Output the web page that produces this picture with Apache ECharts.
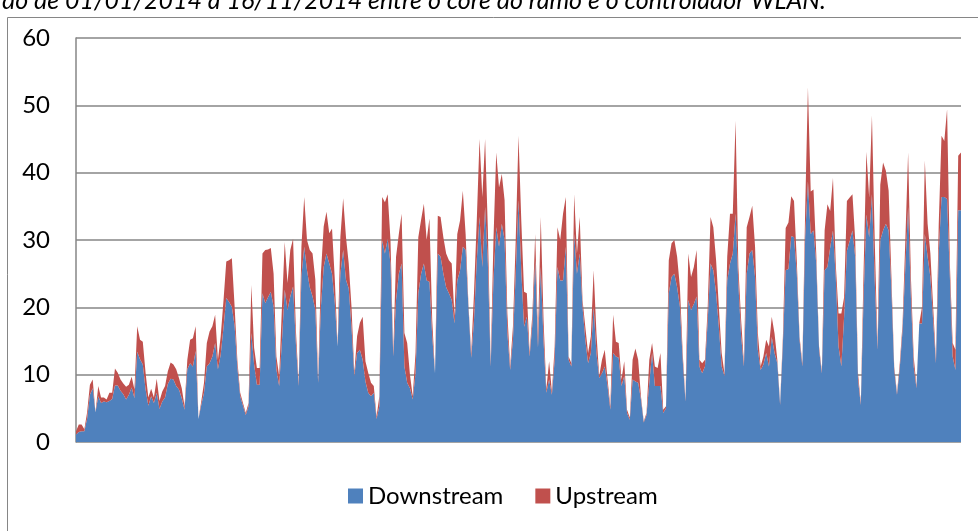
<!DOCTYPE html>
<html><head><meta charset="utf-8">
<script src="https://cdn.jsdelivr.net/npm/echarts@6/dist/echarts.min.js"></script>
<style>html,body{margin:0;padding:0;background:#fff}#c{width:978px;height:531px}</style>
</head><body><div id="c"></div>
<script>
// Totals (top of stack) and downstream, one value per day
const totals = [1.6,2.6,2.6,1.9,4.4,8.5,9.3,4.4,8.3,6.6,6.6,6.3,7.3,7.3,10.9,10.3,9.3,8.7,8.2,8.5,
9.7,7.8,17.2,15.2,14.9,10.3,6.6,7.9,6.6,9.4,6.1,7.5,8.3,10.5,11.8,11.5,10.8,9.5,8,5.3,
12.2,15.2,15.4,17.2,3.4,6,8.8,14.7,16.4,17.2,18.9,12.2,15.7,21,26.8,27,27.3,20.1,12,7.3,
5.8,4.3,5.8,23.3,14,11,11,28,28.5,28.6,28.8,25,12.7,9.8,20,29.7,23.6,28.5,30.2,16.7,
8.8,29,36.4,30,28.5,28,24.1,9.3,25,32,34.2,31,31.7,24.1,14.2,30.5,36.2,30.5,26.5,20,
10.3,15.7,17.7,18.6,12,10.3,8.8,8.3,3.8,6.8,36.4,35.6,36.8,30,13.2,27.5,30.9,33.9,16.2,14.7,
10,6.8,13.2,30.4,33,35.4,30,33.2,18.1,10.2,33.6,33.4,30.4,28,27,26.5,18.6,30.9,32.9,37.3,
30.9,20.6,13.2,22,32.9,45,36.4,45,31.4,11.7,30,43,37.8,39.8,35.9,19.1,11.2,17.1,30,45.5,
32.9,22.3,22.1,13.2,19.1,30.9,15.7,33.4,18.1,7.8,12,7.5,14.2,31.9,30,33.9,36.4,12.7,11.7,36.8,
28,33.4,21.1,17.1,13.2,15.7,25.5,16.2,9.8,12.2,13.7,9.3,5.3,18.9,14.9,14.7,9.3,12,4.8,3.6,
12.2,13.9,12.2,6.8,3.1,4.3,12.2,14.7,11.2,11,13.2,4.8,5.3,27,29.5,30,27.5,23,13.2,6.3,
28,24.5,26,28.5,12.2,11.7,12.2,20.1,33.4,31.9,27,20,13.2,10.2,27.5,33.9,33.9,47.7,26,18.1,
11.7,31.9,33.4,35.1,29,16.2,11.2,12.7,15.2,14.2,18.6,16.1,12.2,5.8,15.6,31.8,32.6,36.5,35.8,26.9,
15.6,11.7,34.3,52.7,37.2,37.5,27.9,14.2,10.5,31.4,35.3,34.3,39.2,26.4,19.1,19.1,21.5,35.8,36.3,36.8,
29.9,10.2,5.8,25.5,43.1,36.3,48.5,30,14.2,38.2,41.5,40.3,37.3,24.5,11.2,7.3,11.7,17.6,30,43,
24.5,12.7,8.3,17.6,20.1,41.8,32.4,28,20,12.2,32.4,45.5,44.7,49.4,26.5,14.7,13.7,42.5,43];
const downstream = [1.1,1.5,1.6,1.6,3.5,7,8,4.4,6.8,5.8,6,5.9,6.1,6.4,8.4,8.4,7.6,7.1,6.3,7,
8.1,6.5,13.4,12.3,11.5,7.8,5.4,6.8,5.8,7.3,4.9,6,6.6,8.6,9.4,9.3,8.3,7.8,6.5,4.8,
10.8,11.7,11.2,13.5,3.4,5.5,7.3,11.2,11.7,12.7,14.7,10.8,13,17,21.4,20.8,20.1,17.2,11,6.8,
5.4,4,5.3,16.2,11.5,8.5,8.5,22.1,20.6,21.5,22.3,20.1,10.8,8.3,15,22.6,19.6,21.6,23.1,14.7,
8.3,24.6,29,25.5,23,21.6,19.6,8.8,20,26,28,26.5,25,20.6,14.2,25,28.5,24.1,22.8,17,
9.8,13.2,13.7,12.2,9,7.3,6.8,7.3,3.4,5.3,30,28,30.2,26.5,12.7,21.1,25,26.5,11.2,8.8,
8,6.3,10.2,22.1,25,26.5,24,23.8,15.7,10.2,28,27.5,25,23,22.1,21.1,17.6,24,25.5,29,
28.5,20.1,12.5,18,27,33.4,26,34.9,26.5,11.2,24,31.9,29,32.4,30,16.2,10.7,15.2,25,35.9,
25.5,17.1,18.6,12.7,17.6,27,14,26,15,7.3,9.3,7,12.2,26,24,24,29,12.2,11.2,30.9,
25,28,20.1,15.2,11.7,13.2,20.1,13.2,9.5,10.2,11.2,8.3,4.8,13.2,12.7,12.5,8.3,9.8,4.3,3.3,
9.3,9,8.8,6.3,2.9,4,8.8,13.2,8.3,8.3,8.3,4.3,5,22.1,24.5,25,23,20.1,12.2,6,
21.1,19.6,20.5,21.6,11.2,10.2,11.2,18.1,26.5,25.5,22.1,17,11.2,9.8,24,26.5,28,33.9,23.5,15.7,
11.2,25,28,28.5,24.5,13.7,10.7,11.5,13.2,11.2,15.6,13.2,11.7,5.5,14.6,25.5,25.7,30.6,30.4,25,
15.1,11.2,30.4,38.7,30.9,31.4,26.4,13.7,10.2,25.5,26,28.9,31.4,24.5,14.2,11.2,18.6,28.4,29.9,31.4,
27.4,9.2,5.5,21.5,33.8,30.4,36.8,24,13.7,30,31.4,32.4,31.4,22.6,10.7,7,11,16.6,26,34.9,
21.6,11.2,8,17.6,17.6,30.9,27.5,24.5,18,11.7,28,36.4,36.4,36.1,24.5,12.7,10.7,34.4,34.4];
const upstream = totals.map((t, i) => Math.max(0, +(t - downstream[i]).toFixed(2)));
const categories = totals.map((_, i) => String(i + 1));
const yTicks = [0, 10, 20, 30, 40, 50, 60];
const seriesNames = ['Downstream', 'Upstream'];
const colors = ['#4F81BD', '#C0504D'];

const chart = echarts.init(document.getElementById('c'), null, {renderer: 'canvas'});
const font = 'Lato, "Open Sans", sans-serif';
chart.setOption({
  animation: false,
  backgroundColor: '#fff',
  color: colors,
  graphic: [
    {type: 'rect', silent: true, shape: {x: 7.5, y: 17.5, width: 1000, height: 600},
     style: {fill: 'none', stroke: '#868686', lineWidth: 1}},
    {type: 'text', left: 2, top: -12, silent: true,
     style: {text: 'do de 01/01/2014 a 16/11/2014 entre o core do ramo e o controlador WLAN.',
             font: 'italic 25px ' + font, fill: '#000'}}
  ],
  grid: {left: 76, right: 17, top: 38, bottom: 89, containLabel: false},
  legend: {
    bottom: 18, left: 343, itemWidth: 15, itemHeight: 15, itemGap: 32,
    icon: 'rect', textStyle: {fontSize: 24, fontFamily: font, color: '#000'},
    data: seriesNames
  },
  xAxis: {
    type: 'category', data: categories, boundaryGap: false,
    axisLine: {show: false}, axisTick: {show: false}, axisLabel: {show: false}, splitLine: {show: false}
  },
  yAxis: {
    type: 'value', min: yTicks[0], max: yTicks[yTicks.length - 1], interval: 10,
    axisLine: {show: true, lineStyle: {color: '#868686', width: 1.5}},
    axisTick: {show: false},
    axisLabel: {margin: 26, fontSize: 24, fontFamily: font, color: '#000'},
    splitLine: {show: true, lineStyle: {color: '#868686', width: 1.5}}
  },
  series: [
    {name: seriesNames[0], type: 'line', stack: 'total', data: downstream, symbol: 'none',
     lineStyle: {width: 0}, areaStyle: {color: colors[0], opacity: 1}, itemStyle: {color: colors[0]}},
    {name: seriesNames[1], type: 'line', stack: 'total', data: upstream, symbol: 'none',
     lineStyle: {width: 0}, areaStyle: {color: colors[1], opacity: 1}, itemStyle: {color: colors[1]}}
  ]
});
</script></body></html>
